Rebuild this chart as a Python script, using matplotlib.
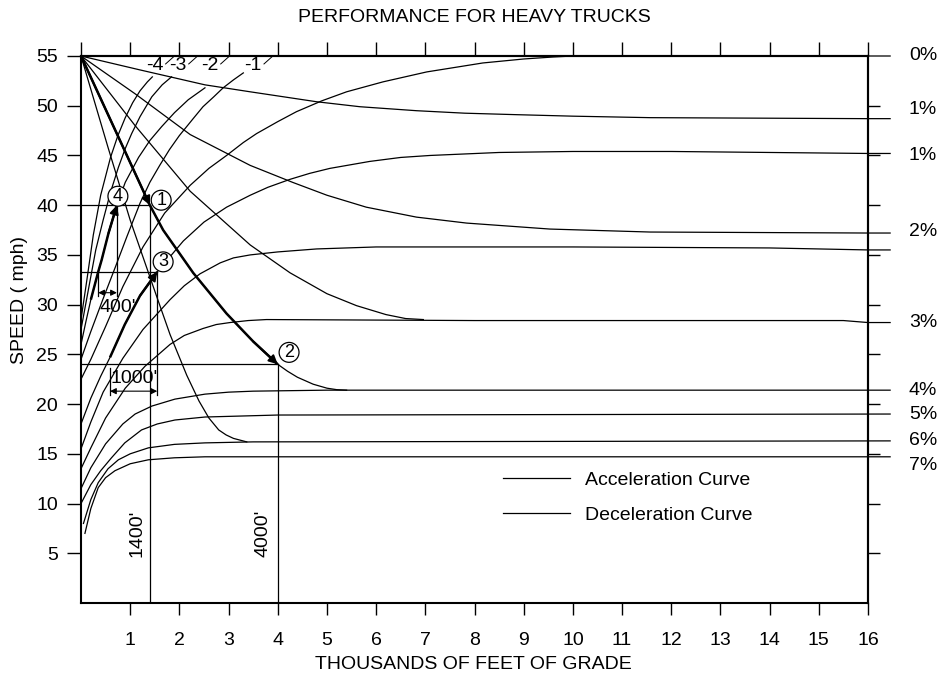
#!/usr/bin/env python3

# Speed/distance performance curves for heavy trucks on grades. The values
# below were read off a scanned design chart, so they are eye estimates.
# Distance is in thousands of feet of grade, speed in mph.

import numpy as np
import matplotlib
matplotlib.use("Agg")
import matplotlib.pyplot as pyplot
from matplotlib.lines import Line2D

FONT = ["Liberation Sans", "DejaVu Sans"]
TEXT_SIZE = 14

# Acceleration curves (downgrades -4 .. -1, then upgrades 0% .. 7%)
acc_m4_ft = [0, 0.12, 0.25, 0.4, 0.6, 0.75, 0.9, 1.05, 1.2, 1.35, 1.45]
acc_m4_mph = [28.5, 32.5, 37, 41, 44.8, 47.0, 48.8, 50.3, 51.5, 52.4, 52.9]
acc_m3_ft = [0, 0.15, 0.3, 0.45, 0.6, 0.76, 0.9, 1.03, 1.2, 1.44, 1.65, 1.84]
acc_m3_mph = [27.5, 31.5, 35.5, 38.5, 41.3, 43.8, 45.7, 47.2, 48.9, 50.9, 52.1, 52.9]
acc_m2_ft = [0, 0.1, 0.2, 0.35, 0.42, 0.56, 0.73, 0.9, 1.17, 1.4, 1.64, 1.9, 2.18, 2.52]
acc_m2_mph = [26, 28.3, 30.5, 33.3, 34.5, 37.2, 40, 42.3, 44.8, 46.5, 47.9, 49.3, 50.6, 51.8]
acc_m1_ft = [0, 0.2, 0.45, 0.7, 0.93, 1.2, 1.4, 1.6, 1.8, 2.0, 2.28, 2.48, 2.7, 2.89,
             3.1, 3.3]
acc_m1_mph = [24.5, 27.3, 30.6, 33.8, 36.8, 40.2, 42.3, 44.0, 45.6, 47.0, 48.7, 49.9,
              50.9, 51.8, 52.6, 53.3]
acc_0_ft = [0, 0.2, 0.5, 0.85, 1.26, 1.7, 2.22, 2.6, 2.96, 3.3, 3.57, 4.0, 4.38, 4.9,
            5.4, 6.14, 7.03, 8.17, 9.0, 9.6, 10.0, 16.45]
acc_0_mph = [22.5, 24.5, 27.8, 31.8, 35.8, 39.2, 42.0, 43.7, 45.0, 46.3, 47.2, 48.4,
             49.4, 50.5, 51.4, 52.4, 53.4, 54.3, 54.7, 54.9, 55, 55]
acc_1_ft = [0, 0.2, 0.4, 0.59, 0.89, 1.2, 1.55, 2.08, 2.5, 2.96, 3.44, 3.8, 4.25, 4.65,
            5.06, 5.87, 6.5, 7.1, 8.5, 10, 12, 16, 16.45]
acc_1_mph = [18, 20.6, 22.8, 24.7, 28.0, 30.9, 33.3, 36.4, 38.3, 39.8, 41.0, 41.8,
             42.6, 43.2, 43.7, 44.4, 44.8, 45.0, 45.3, 45.4, 45.4, 45.2, 45.2]
acc_2_ft = [0, 0.2, 0.45, 0.85, 1.26, 1.81, 2.1, 2.42, 2.83, 3.1, 3.44, 4.0, 4.79, 6,
            10, 14, 16, 16.45]
acc_2_mph = [15.5, 18.2, 21.2, 24.6, 27.5, 30.5, 31.9, 33.1, 34.2, 34.7, 35.0, 35.3,
             35.6, 35.8, 35.8, 35.7, 35.5, 35.5]
acc_3_ft = [0, 0.2, 0.5, 0.9, 1.3, 1.81, 2.1, 2.48, 2.75, 3.03, 3.4, 3.77, 8, 14, 15.5,
            16, 16.45]
acc_3_mph = [13.5, 15.6, 18.6, 21.6, 23.8, 26.0, 26.9, 27.6, 28.0, 28.2, 28.4, 28.5,
             28.4, 28.4, 28.4, 28.2, 28.2]
acc_4_ft = [0, 0.2, 0.5, 0.85, 1.1, 1.44, 1.91, 2.52, 3.0, 3.5, 5, 16.45]
acc_4_mph = [11.5, 13.6, 16.0, 18.0, 19.0, 19.8, 20.5, 21.0, 21.2, 21.3, 21.4, 21.4]
acc_5_ft = [0, 0.2, 0.4, 0.62, 0.89, 1.23, 1.55, 1.91, 2.52, 4, 16.45]
acc_5_mph = [10, 11.9, 13.3, 14.6, 16.1, 17.4, 18.0, 18.4, 18.7, 18.9, 19.0]
acc_6_ft = [0.05, 0.2, 0.35, 0.55, 0.76, 1.0, 1.37, 1.9, 2.52, 3.5, 16.45]
acc_6_mph = [8, 10.4, 12.1, 13.5, 14.4, 15.0, 15.6, 15.95, 16.1, 16.2, 16.3]
acc_7_ft = [0.08, 0.2, 0.35, 0.5, 0.69, 1.0, 1.37, 1.9, 2.52, 16.45]
acc_7_mph = [7, 9.5, 11.6, 12.6, 13.3, 14.0, 14.4, 14.6, 14.7, 14.7]

# Deceleration curves, all entering the grade at 55 mph
dec_1_ft = [0, 1.2, 2.52, 3.44, 4.79, 5.67, 6.82, 7.8, 8.86, 10, 11.57, 16, 16.45]
dec_1_mph = [55, 53.6, 52.1, 51.4, 50.4, 49.9, 49.5, 49.25, 49.1, 48.95, 48.8, 48.7, 48.7]
dec_2_ft = [0, 1.1, 2.22, 3.44, 4.3, 5.0, 5.8, 6.82, 7.84, 9.53, 11.57, 16, 16.45]
dec_2_mph = [55, 51.2, 47.1, 44.0, 42.3, 41.0, 39.8, 38.8, 38.2, 37.6, 37.3, 37.2, 37.2]
dec_3_ft = [0, 1.1, 2.22, 3.44, 4.25, 5.0, 5.6, 6.2, 6.6, 6.96]
dec_3_mph = [55, 48.0, 41.4, 36.0, 33.2, 31.1, 29.9, 29.0, 28.6, 28.5]
dec_4_ft = [0, 1.4, 1.67, 2.28, 2.96, 3.5, 4.0, 4.2, 4.4, 4.72, 5.0, 5.2, 5.4]
dec_4_mph = [55, 40, 37.5, 33.2, 29.1, 26.3, 24.0, 23.3, 22.7, 22.0, 21.6, 21.45, 21.4]
dec_6_ft = [0, 0.55, 1.0, 1.54, 1.81, 2.15, 2.4, 2.6, 2.8, 2.95, 3.1, 3.37]
dec_6_mph = [55, 45.8, 38.5, 30.8, 27.0, 22.9, 20.3, 18.6, 17.4, 16.9, 16.55, 16.2]

# Grade labels at the right edge and downgrade labels at the top
grade_labels = ["0%", "1%", "1%", "2%", "3%", "4%", "5%", "6%", "7%"]
grade_label_mph = [55, 49.6, 45.0, 37.4, 28.2, 21.4, 19.0, 16.3, 13.8]
down_labels = ["-4", "-3", "-2", "-1"]
down_label_ft = [1.5, 1.97, 2.62, 3.5]

# Worked examples: (1) 55 -> 40 mph in 1400', (2) 24 mph at 4000',
# (3) 24 -> 33 mph in 1000', (4) 33 -> 40 mph in 400'
ex1_ft, ex1_mph = 1.4, 40
ex2_ft, ex2_mph = 4.0, 24
ex3_start_ft, ex3_ft, ex3_mph = 0.59, 1.55, 33.3
ex4_start_ft, ex4_ft, ex4_mph = 0.35, 0.73, 40

x_ticks = list(range(1, 17))
y_ticks = list(range(5, 56, 5))


def thick_path(ax, xs, ys, x0, x1):
	xs = np.asarray(xs)
	ys = np.asarray(ys)
	keep = (xs >= x0 - 1e-9) & (xs <= x1 + 1e-9)
	px, py = xs[keep], ys[keep]
	ax.plot(px, py, color="black", lw=1.8, solid_capstyle="butt")
	ax.annotate("", xy=(px[-1], py[-1]), xytext=(px[-2], py[-2]),
	            arrowprops=dict(arrowstyle="-|>", color="black", lw=1.4,
	                            mutation_scale=13, shrinkA=0, shrinkB=0))


def circled(ax, text, x, y):
	ax.text(x, y, text, ha="center", va="center", fontsize=13, family=FONT,
	        bbox=dict(boxstyle="circle,pad=0.08", fc="white", ec="black", lw=0.9))


def dimension(ax, x0, x1, y):
	ax.annotate("", xy=(x0, y), xytext=(x1, y),
	            arrowprops=dict(arrowstyle="<|-|>", color="black", lw=0.8,
	                            mutation_scale=9, shrinkA=0, shrinkB=0))


def main():
	pyplot.rcParams["font.family"] = FONT
	fig = pyplot.figure(figsize=(9.43, 6.82), dpi=100)
	ax = fig.add_axes([81 / 943, 79 / 682, 787 / 943, 547 / 682])
	ax.set_xlim(0, 16)
	ax.set_ylim(0, 55)

	curves = [
		(acc_m4_ft, acc_m4_mph), (acc_m3_ft, acc_m3_mph), (acc_m2_ft, acc_m2_mph),
		(acc_m1_ft, acc_m1_mph), (acc_0_ft, acc_0_mph), (acc_1_ft, acc_1_mph),
		(acc_2_ft, acc_2_mph), (acc_3_ft, acc_3_mph), (acc_4_ft, acc_4_mph),
		(acc_5_ft, acc_5_mph), (acc_6_ft, acc_6_mph), (acc_7_ft, acc_7_mph),
		(dec_1_ft, dec_1_mph), (dec_2_ft, dec_2_mph), (dec_3_ft, dec_3_mph),
		(dec_4_ft, dec_4_mph), (dec_6_ft, dec_6_mph),
	]
	for xs, ys in curves:
		ax.plot(xs, ys, color="black", lw=0.9, clip_on=False,
		        solid_joinstyle="round")

	# reference lines of the worked examples
	k = dict(color="black", lw=0.9)
	ax.plot([0, ex1_ft], [ex1_mph, ex1_mph], **k)
	ax.plot([ex1_ft, ex1_ft], [0, ex1_mph], **k)
	ax.plot([0, ex2_ft], [ex2_mph, ex2_mph], **k)
	ax.plot([ex2_ft, ex2_ft], [0, ex2_mph], **k)
	ax.plot([0, ex3_ft], [ex3_mph, ex3_mph], **k)
	ax.plot([ex3_ft, ex3_ft], [20.9, ex3_mph], **k)
	ax.plot([ex3_start_ft, ex3_start_ft], [20.9, 23.6], **k)
	ax.plot([ex4_ft, ex4_ft], [30.9, ex4_mph], **k)
	ax.plot([ex4_start_ft, ex4_start_ft], [30.9, ex3_mph], **k)
	dimension(ax, ex4_start_ft, ex4_ft, 31.2)
	dimension(ax, ex3_start_ft, ex3_ft, 21.3)

	# heavy arrows along the curves used by the examples
	thick_path(ax, dec_4_ft, dec_4_mph, 0, ex1_ft)
	thick_path(ax, dec_4_ft, dec_4_mph, ex1_ft, ex2_ft)
	thick_path(ax, acc_1_ft, acc_1_mph, ex3_start_ft, ex3_ft)
	thick_path(ax, acc_m2_ft, acc_m2_mph, 0.2, ex4_ft)

	circled(ax, "1", 1.63, 40.5)
	circled(ax, "2", 4.23, 25.2)
	circled(ax, "3", 1.67, 34.3)
	circled(ax, "4", 0.75, 40.9)

	ax.text(0.75, 29.7, "400'", ha="center", va="center", fontsize=TEXT_SIZE)
	ax.text(1.08, 22.6, "1000'", ha="center", va="center", fontsize=TEXT_SIZE)
	ax.text(1.13, 7.0, "1400'", ha="center", va="center", rotation=90,
	        fontsize=TEXT_SIZE)
	ax.text(3.7, 7.0, "4000'", ha="center", va="center", rotation=90,
	        fontsize=TEXT_SIZE)

	for label, x in zip(down_labels, down_label_ft):
		ax.text(x, 54.0, label, ha="center", va="center", fontsize=TEXT_SIZE)
		ax.plot([x + 0.22, x + 0.4], [54.2, 55], color="black", lw=0.7)

	for label, y in zip(grade_labels, grade_label_mph):
		ax.text(16.83, y, label, ha="left", va="center", fontsize=TEXT_SIZE)

	handles = [Line2D([], [], color="black", lw=0.9),
	           Line2D([], [], color="black", lw=0.9)]
	ax.legend(handles, ["Acceleration Curve", "Deceleration Curve"],
	          loc="upper left", bbox_to_anchor=(0.536, 0.241), frameon=False,
	          fontsize=TEXT_SIZE, borderpad=0, borderaxespad=0,
	          handlelength=3.45, handletextpad=0.77, labelspacing=0.9)

	# axes: bottom/left carry labels, top/right only ticks
	for spine in ax.spines.values():
		spine.set_linewidth(1.5)
	ax.set_xticks(x_ticks)
	ax.set_xticklabels([str(t) for t in x_ticks])
	ax.set_yticks(y_ticks)
	ax.tick_params(axis="x", direction="out", length=8.6, width=1,
	               labelsize=TEXT_SIZE, pad=12.3)
	ax.tick_params(axis="y", direction="out", length=10, width=1,
	               labelsize=TEXT_SIZE, pad=6.5)

	top = ax.secondary_xaxis("top")
	top.set_xticks(range(0, 17))
	top.tick_params(direction="out", length=10, width=1, labeltop=False)
	top.spines["top"].set_linewidth(1.5)
	right = ax.secondary_yaxis("right")
	right.set_yticks(range(5, 51, 5))
	right.tick_params(direction="out", length=8.6, width=1, labelright=False)
	right.spines["right"].set_linewidth(1.5)

	ax.set_xlabel("THOUSANDS OF FEET OF GRADE", fontsize=TEXT_SIZE)
	ax.xaxis.set_label_coords(0.498, -0.097)
	ax.set_ylabel("SPEED ( mph)", fontsize=TEXT_SIZE)
	ax.yaxis.set_label_coords(-0.067, 0.554)
	fig.text(474 / 943, 1 - 18 / 682, "PERFORMANCE FOR HEAVY TRUCKS",
	         ha="center", va="center", fontsize=TEXT_SIZE)

	fig.savefig("out.png", dpi=100)


if (__name__ == "__main__"):
	main()
